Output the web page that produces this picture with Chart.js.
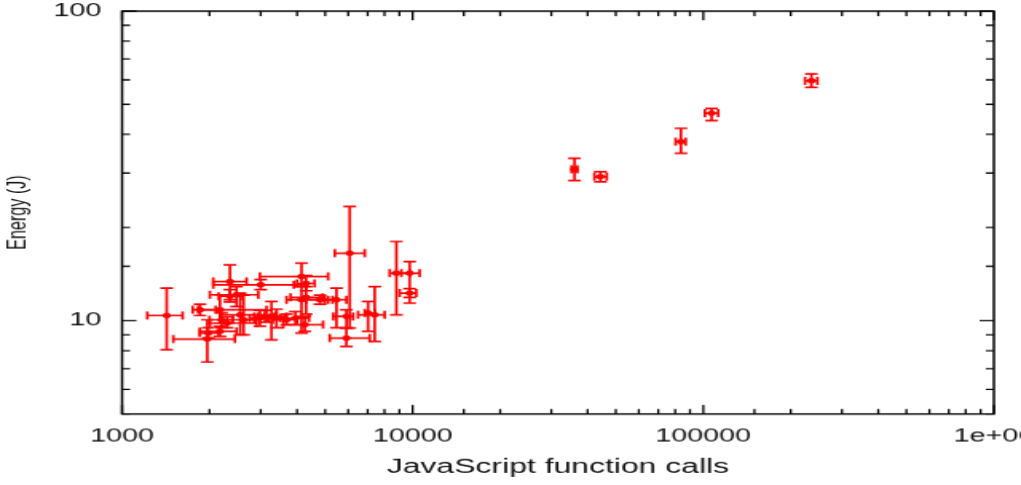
<!DOCTYPE html>
<html>
<head>
<meta charset="utf-8">
<script src="https://cdn.jsdelivr.net/npm/chart.js@4/dist/chart.umd.min.js"></script>
<style>
    html, body { margin: 0; padding: 0; background: #fff; overflow: hidden; }
    /* the original plot is a 640x480 gnuplot image stretched to 1021x485 */
    #wrap { width: 1021px; height: 485px; overflow: hidden; }
    #energy { transform: scale(1.5953, 1.0104); transform-origin: 0 0; }
</style>
</head>
<body>
<div id="wrap"><canvas id="energy" width="640" height="480"></canvas></div>
<script>
// JavaScript function calls (x) and energy in joules (y), with error ranges
const calls     = [1424, 1965, 2350, 4144, 2477, 3000, 3268, 4144, 4255, 5466,
                   6074, 5917, 5917, 7403, 7023, 8788, 9765, 9765, 2172, 2550,
                   2300, 2172, 2620, 2981, 3100, 3681, 3950, 4300, 4800, 1854,
                   2200, 1980, 3400, 4300, 2350,
                   36040, 44260, 83810, 106800, 235500];
const callsLow  = [1222, 1501, 2060, 2981, 2006, 2060, 2942, 3681, 3585, 4983,
                   5395, 5324, 5185, 6488, 6840, 8337, 9143, 9022, 1829, 2172,
                   2006, 1854, 2400, 2750, 2850, 3300, 3500, 3800, 4300, 1750,
                   2000, 1850, 3150, 4000, 2150,
                   35200, 42210, 80300, 101300, 224000];
const callsHigh = [1616, 2445, 2682, 5117, 2942, 3900, 3681, 5117, 4918, 5917,
                   6840, 6237, 7116, 8012, 7403, 9765, 10568, 10294, 3141, 3401,
                   2903, 2477, 2850, 3200, 3350, 4000, 4400, 4900, 5300, 2100,
                   2400, 2150, 3650, 4600, 2600,
                   36900, 46530, 87000, 112600, 247000];
const energy     = [10.4, 8.73, 13.39, 13.9, 12.13, 13.07, 10.33, 11.69, 9.71, 11.69,
                    16.53, 10.33, 8.79, 10.45, 10.59, 14.25, 14.25, 12.28, 10.85, 10.45,
                    9.83, 9.24, 10.07, 10.2, 10.33, 10.07, 10.2, 11.9, 11.69, 10.85,
                    10.07, 9.13, 10.2, 13.2, 12.0,
                    30.85, 29.2, 37.88, 46.8, 59.6];
const energyLow  = [8.06, 7.36, 11.69, 12.9, 11.12, 12.6, 8.68, 9.13, 9.24, 9.5,
                    9.47, 9.47, 8.26, 8.58, 9.24, 10.45, 11.4, 11.9, 9.83, 9.0,
                    9.5, 8.9, 9.0, 9.6, 9.9, 9.7, 9.7, 10.5, 11.3, 10.4,
                    9.5, 8.8, 9.5, 12.5, 11.5,
                    28.36, 28.1, 34.75, 44.3, 56.8];
const energyHigh = [12.74, 10.07, 15.16, 15.35, 12.9, 13.6, 11.54, 13.07, 10.33, 12.74,
                    23.38, 10.85, 9.47, 12.9, 11.54, 18.03, 15.54, 12.7, 12.13, 12.28,
                    10.3, 9.6, 12.1, 10.8, 10.8, 10.5, 10.7, 12.9, 12.1, 11.3,
                    10.6, 9.5, 10.9, 14.0, 12.6,
                    33.5, 30.3, 41.83, 48.5, 62.7];

// only the decades carry a label
const xTickValues = [1000, 10000, 100000, 1000000];
const xTickLabels = ["1000", "10000", "100000", "1e+06"];
const yTickValues = [10, 100];
const yTickLabels = ["10", "100"];

const points = calls.map(function (c, i) {
    return { x: c, y: energy[i], xMin: callsLow[i], xMax: callsHigh[i], yMin: energyLow[i], yMax: energyHigh[i] };
});

function isDecade(v) {
    const l = Math.log10(v);
    return Math.abs(l - Math.round(l)) < 1e-6;
}

function labelFor(values, labels, v) {
    for (let i = 0; i < values.length; i++) {
        if (Math.abs(values[i] - v) / values[i] < 1e-6) return labels[i];
    }
    return "";
}

/**
 * error bars, drawn with the chart scales
 */
const errorBars = {
    id: "errorBars",
    afterDatasetsDraw: function (chart) {
        const ctx = chart.ctx;
        const xs = chart.scales.x, ys = chart.scales.y;
        const area = chart.chartArea;
        const cap = 4;
        ctx.save();
        ctx.beginPath();
        ctx.rect(area.left, area.top, area.right - area.left, area.bottom - area.top);
        ctx.clip();
        ctx.strokeStyle = "#ff0000";
        ctx.lineWidth = 1.7;
        chart.data.datasets[0].data.forEach(function (p) {
            const px = xs.getPixelForValue(p.x), py = ys.getPixelForValue(p.y);
            const x0 = xs.getPixelForValue(p.xMin), x1 = xs.getPixelForValue(p.xMax);
            const y0 = ys.getPixelForValue(p.yMin), y1 = ys.getPixelForValue(p.yMax);
            ctx.beginPath();
            // vertical bar + caps
            ctx.moveTo(px, y0); ctx.lineTo(px, y1);
            ctx.moveTo(px - cap, y0); ctx.lineTo(px + cap, y0);
            ctx.moveTo(px - cap, y1); ctx.lineTo(px + cap, y1);
            // horizontal bar + caps
            ctx.moveTo(x0, py); ctx.lineTo(x1, py);
            ctx.moveTo(x0, py - cap); ctx.lineTo(x0, py + cap);
            ctx.moveTo(x1, py - cap); ctx.lineTo(x1, py + cap);
            ctx.stroke();
        });
        ctx.restore();
    }
};

/**
 * gnuplot style frame with ticks pointing inwards on all four sides
 */
const frame = {
    id: "frame",
    afterDraw: function (chart) {
        const ctx = chart.ctx;
        const a = chart.chartArea;
        ctx.save();
        ctx.strokeStyle = "#000";
        ctx.lineWidth = 1.3;
        ctx.beginPath();
        chart.scales.x.ticks.forEach(function (t) {
            const px = chart.scales.x.getPixelForValue(t.value);
            const len = isDecade(t.value) ? 9 : 5;
            ctx.moveTo(px, a.bottom); ctx.lineTo(px, a.bottom - len);
            ctx.moveTo(px, a.top); ctx.lineTo(px, a.top + len);
        });
        chart.scales.y.ticks.forEach(function (t) {
            const py = chart.scales.y.getPixelForValue(t.value);
            const len = isDecade(t.value) ? 9 : 5;
            ctx.moveTo(a.left, py); ctx.lineTo(a.left + len, py);
            ctx.moveTo(a.right, py); ctx.lineTo(a.right - len, py);
        });
        ctx.stroke();
        ctx.lineWidth = 1.5;
        ctx.strokeRect(a.left, a.top, a.right - a.left, a.bottom - a.top);
        ctx.restore();
    }
};

const tickFont = { family: "'Liberation Sans', Arial, sans-serif", size: 18 };

new Chart(document.getElementById("energy"), {
    type: "scatter",
    data: {
        datasets: [{
            label: "energy",
            data: points,
            backgroundColor: "#ff0000",
            borderColor: "#ff0000",
            pointRadius: 2.3,
            pointHoverRadius: 2.3,
        }],
    },
    options: {
        responsive: false,
        animation: false,
        devicePixelRatio: 1,
        layout: { padding: { top: 11, right: 17, left: 0, bottom: 0 } },
        plugins: { legend: { display: false }, tooltip: { enabled: false } },
        scales: {
            x: {
                type: "logarithmic",
                min: 1000,
                max: 1000000,
                grid: { display: false, drawTicks: false },
                border: { display: false },
                ticks: {
                    autoSkip: false,
                    maxRotation: 0,
                    padding: 12,
                    color: "#111",
                    font: tickFont,
                    callback: function (v) { return labelFor(xTickValues, xTickLabels, v); }
                },
                title: {
                    display: true,
                    text: "JavaScript function calls",
                    color: "#111",
                    font: { family: "'Liberation Sans', Arial, sans-serif", size: 20 },
                    padding: { top: 0, bottom: 6 }
                },
                afterFit: function (s) { s.height = 70.3; s.paddingLeft = 0; s.paddingRight = 0; }
            },
            y: {
                type: "logarithmic",
                min: 5,
                max: 100,
                grid: { display: false, drawTicks: false },
                border: { display: false },
                ticks: {
                    autoSkip: false,
                    padding: 13,
                    color: "#111",
                    font: tickFont,
                    callback: function (v) { return labelFor(yTickValues, yTickLabels, v); }
                },
                title: {
                    display: true,
                    text: "Energy (J)",
                    color: "#111",
                    font: { family: "'Liberation Sans', Arial, sans-serif", size: 16 },
                    padding: { top: 2, bottom: 0 }
                },
                afterFit: function (s) { s.width = 76.5; s.paddingTop = 0; s.paddingBottom = 0; }
            }
        }
    },
    plugins: [errorBars, frame]
});
</script>
</body>
</html>
